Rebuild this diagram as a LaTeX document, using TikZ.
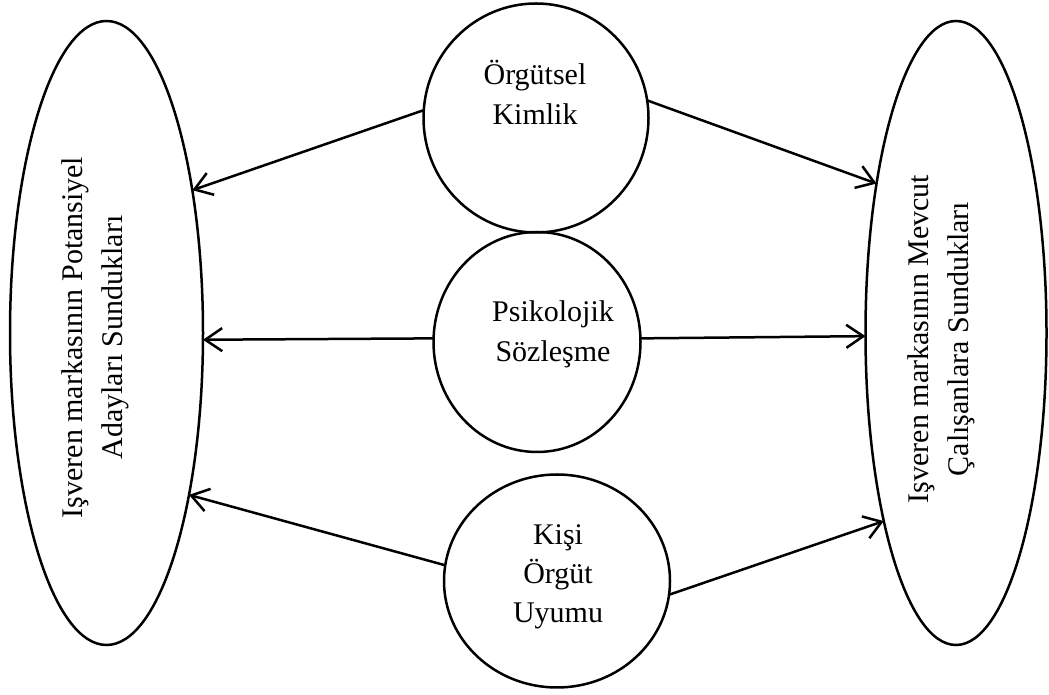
\documentclass[tikz,border=0pt]{standalone}
\usepackage{fontspec}
\setmainfont{Liberation Serif}
\usetikzlibrary{arrows.meta,shapes.geometric}
\begin{document}
\begin{tikzpicture}[x=1pt,y=1pt,
  bubble/.style={ellipse, draw, line width=2.5pt, inner sep=0pt, outer sep=0pt},
  txt/.style={font=\fontsize{30}{40}\selectfont, align=center, inner sep=0pt, anchor=base},
  link/.style={line width=2.5pt, -{Straight Barb[length=17pt,width=23pt]}}]
  \useasboundingbox (0,0) rectangle (1049,695);

  % outer ellipses: what the employer brand offers
  \node[bubble, minimum width=193pt, minimum height=624pt] (L) at (106.5,362) {};
  \node[bubble, minimum width=181pt, minimum height=624pt] (R) at (956,362) {};

  % central concepts
  \node[bubble, minimum width=225pt, minimum height=229pt] (T) at (536,577) {};
  \node[bubble, minimum width=207pt, minimum height=220pt] (M) at (537,353) {};
  \node[bubble, minimum width=226pt, minimum height=213pt] (B) at (557,114) {};

  % labels (anchored on the baseline of their last line)
  \node[txt] (tT) at (535,570) {Örgütsel\\Kimlik};
  \node[txt] (tM) at (553,333) {Psikolojik\\Sözleşme};
  \node[txt, font=\fontsize{30}{39}\selectfont] (tB) at (558,72) {Kişi\\Örgüt\\Uyumu};
  \node[txt, rotate=90] (tL) at (122,357.5) {Işveren markasının Potansiyel\\Adayları Sundukları};
  \node[txt, rotate=90] (tR) at (968,356) {Işveren markasının Mevcut\\Çalışanlara Sundukları};

  % connectors
  \draw[link] (T.176) -- (L.59);
  \draw[link] (T.9) -- (R.118);
  \draw[link] (M.178) -- (L.-4);
  \draw[link] (M.2) -- (R.182);
  \draw[link] (B.172) -- (L.-63);
  \draw[link] (B.-7) -- (R.-111);
\end{tikzpicture}
\end{document}
